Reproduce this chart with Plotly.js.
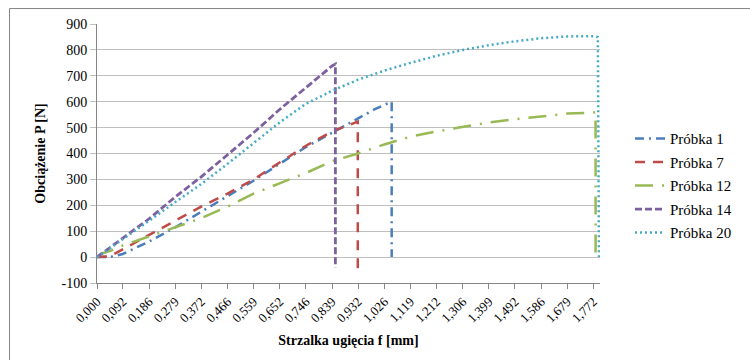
<!DOCTYPE html>
<html>
<head>
<meta charset="utf-8">
<script src="https://cdn.plot.ly/plotly-3.0.1.min.js"></script>
<style>html,body{margin:0;padding:0;background:#fff;}#chart{width:750px;height:360px;}</style>
</head>
<body>
<div id="chart"></div>
<script>
const xTickLabels = ["0,000","0,092","0,186","0,279","0,372","0,466","0,559","0,652","0,746","0,839","0,932","1,026","1,119","1,212","1,306","1,399","1,492","1,586","1,679","1,772"];
const yTickVals = [-100,0,100,200,300,400,500,600,700,800,900];
const yTickLabels = ["-100","0","100","200","300","400","500","600","700","800","900"];

const names = ["Próbka 1","Próbka 7","Próbka 12","Próbka 14","Próbka 20"];

const x1 = [0,0.046,0.092,0.186,0.279,0.372,0.466,0.559,0.652,0.746,0.839,0.88,0.932,0.99,1.026,1.052,1.052];
const y1 = [0,0,12,60,115,175,235,295,360,425,480,505,535,570,588,600,0];

const x7 = [0,0.046,0.092,0.186,0.279,0.372,0.466,0.559,0.652,0.746,0.839,0.9,0.931,0.931];
const y7 = [0,3,30,85,142,195,245,300,365,430,485,510,523,-55];

const x12 = [0,0.02,0.05,0.092,0.186,0.279,0.372,0.466,0.559,0.652,0.746,0.839,0.932,1.026,1.119,1.212,1.306,1.399,1.492,1.586,1.679,1.772,1.78,1.78];
const y12 = [0,15,25,45,80,115,150,195,245,285,325,370,400,435,465,485,502,520,532,544,554,558,560,-15];

const x14 = [0,0.092,0.186,0.279,0.372,0.466,0.559,0.652,0.746,0.839,0.851,0.851];
const y14 = [0,72,148,232,310,395,480,570,655,738,745,-40];

const x20 = [0,0.092,0.186,0.279,0.372,0.466,0.559,0.652,0.746,0.839,0.932,1.026,1.119,1.212,1.306,1.399,1.492,1.586,1.679,1.772,1.788,1.792];
const y20 = [0,68,140,212,282,360,440,520,592,642,685,720,750,777,800,818,833,845,852,853,850,0];

const colors = ["#4A7EBB","#BE4B48","#98B954","#7D60A0","#46AAC5"];
const dashes = ["9px,5px,2px,5px","10px,8px","18px,9px,2px,9px","7px,3px","2px,3px"];
const widths = [2.5,2.5,2.5,2.8,2.5];

const xs = [x1,x7,x12,x14,x20];
const ys = [y1,y7,y12,y14,y20];

const serif = '"Liberation Serif", "Times New Roman", serif';

const traces = names.map((n,i)=>({
  type:"scatter", mode:"lines", name:n, x:xs[i], y:ys[i],
  line:{color:colors[i], width:widths[i], dash:dashes[i]},
  legendgroup:"g"+i, hoverinfo:"skip"
}));

const L=97, R=600, T=24, B=283.3, W=750, H=360;
const pw=R-L, ph=B-T;
const px2paper = p => (p-L)/pw;
const py2paper = p => (B-p)/ph;

const layout = {
  width:W, height:H,
  margin:{l:L, r:W-R, t:T, b:H-B, pad:0},
  paper_bgcolor:"#fff", plot_bgcolor:"#fff",
  font:{family:serif, size:13, color:"#000"},
  showlegend:true,
  xaxis:{
    range:[0,1.7957], showgrid:false, zeroline:false,
    tickmode:"array",
    tickvals:xTickLabels.map(s=>parseFloat(s.replace(",","."))),
    ticktext:xTickLabels, tickangle:-45,
    ticks:"outside", ticklen:5, tickcolor:"#868686",
    showline:true, linecolor:"#868686", linewidth:1,
    tickfont:{family:serif, size:13},
    title:{text:"Strzalka ugięcia f [mm]", font:{family:serif, size:14, weight:"bold"}, standoff:10}
  },
  yaxis:{
    range:[-100,900], tickmode:"array", tickvals:yTickVals, ticktext:yTickLabels,
    showgrid:true, gridcolor:"#BFBFBF", gridwidth:1, zeroline:false,
    ticks:"outside", ticklen:6, tickcolor:"#BFBFBF",
    showline:true, linecolor:"#868686", linewidth:1,
    tickfont:{family:serif, size:14},
    title:{text:"Obciążenie P [N]", font:{family:serif, size:14, weight:"bold"}, standoff:12}
  },
  legend:{
    x:px2paper(630), xanchor:"left", y:py2paper(186), yanchor:"middle",
    font:{family:serif, size:15, color:"#000"}, tracegroupgap:1, traceorder:"grouped",
    bgcolor:"rgba(0,0,0,0)"
  },
  shapes:[{
    type:"rect", xref:"paper", yref:"paper",
    x0:px2paper(9.5), x1:px2paper(760), y0:py2paper(370), y1:py2paper(8.5),
    line:{color:"#868686", width:1}, fillcolor:"rgba(0,0,0,0)", layer:"below"
  }]
};

Plotly.newPlot("chart", traces, layout, {staticPlot:true, displayModeBar:false});
</script>
</body>
</html>
